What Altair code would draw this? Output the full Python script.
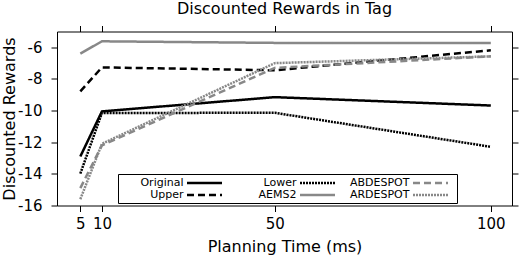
import altair as alt
import pandas as pd

# ---- data ----
times = [5, 10, 50, 100]
original = [-12.9, -10.05, -9.15, -9.68]
upper = [-8.78, -7.27, -7.45, -6.19]
lower = [-13.98, -10.15, -10.14, -12.29]
aems2 = [-6.40, -5.62, -5.72, -5.72]
abdespot = [-14.9, -12.2, -7.3, -6.57]
ardespot = [-15.6, -12.1, -7.0, -6.57]

series_names = ["Original", "Upper", "Lower", "AEMS2", "ABDESPOT", "ARDESPOT"]
series_values = [original, upper, lower, aems2, abdespot, ardespot]
series_colors = ["black", "black", "black", "#888888", "#888888", "#888888"]
series_dashes = [[1, 0], [7, 4], [2, 1], [1, 0], [7, 4], [2, 1]]

x_ticks = [5, 10, 50, 100]
y_ticks = [-16, -14, -12, -10, -8, -6]

rows = []
for name, vals in zip(series_names, series_values):
    for t, v in zip(times, vals):
        rows.append({"series": name, "time": t, "reward": v})
df = pd.DataFrame(rows)

FONT = "DejaVu Sans"

xscale = alt.Scale(domain=[-0.4, 104.9], nice=False, zero=False)
yscale = alt.Scale(domain=[-16, -5], nice=False, zero=False)

legend = alt.Legend(
    title=None,
    orient="none",
    legendX=61,
    legendY=142.5,
    columns=3,
    symbolType="M-4,0H4",
    symbolSize=76.6,
    symbolStrokeWidth=2.5,
    symbolOffset=77.5,
    labelAlign="right",
    labelOffset={"expr": "-27"},
    labelFontSize=11,
    labelFont=FONT,
    labelColor="black",
    strokeColor="black",
    fillColor="white",
    padding=3,
    columnPadding=6,
    rowPadding=1,
    cornerRadius=0,
)

base = alt.Chart(df)

lines = base.mark_line(strokeWidth=2.5).encode(
    x=alt.X("time:Q", scale=xscale,
            axis=alt.Axis(orient="bottom", values=x_ticks, title="Planning Time (ms)",
                          labelPadding=5, titlePadding=7)),
    y=alt.Y("reward:Q", scale=yscale,
            axis=alt.Axis(orient="left", values=y_ticks, title="Discounted Rewards",
                          labelExpr="'' + datum.value", labelPadding=9, titlePadding=0)),
    color=alt.Color("series:N", scale=alt.Scale(domain=series_names, range=series_colors),
                    legend=legend),
    strokeDash=alt.StrokeDash("series:N",
                              scale=alt.Scale(domain=series_names, range=series_dashes),
                              legend=legend),
)

frame = base.mark_line(opacity=0).encode(
    x=alt.X("time:Q", scale=xscale,
            axis=alt.Axis(orient="top", values=x_ticks, labels=False, title=None)),
    y=alt.Y("reward:Q", scale=yscale,
            axis=alt.Axis(orient="right", values=y_ticks, labels=False, title=None)),
    detail="series:N",
)

chart = (
    alt.layer(lines, frame)
    .resolve_axis(x="independent", y="independent")
    .properties(
        width=455,
        height=174,
        padding={"left": 57, "top": 31.5, "right": 16, "bottom": 49.5},
        autosize=alt.AutoSizeParams(type="none"),
        background="white",
        title=alt.TitleParams("Discounted Rewards in Tag", fontSize=16, font=FONT,
                              fontWeight="normal", color="black", anchor="middle",
                              offset=8),
    )
    .configure_view(stroke=None)
    .configure_axis(
        grid=False,
        domainColor="black",
        domainWidth=1,
        tickColor="black",
        tickWidth=1,
        tickSize=6,
        labelColor="black",
        titleColor="black",
        labelFont=FONT,
        titleFont=FONT,
        labelFontSize=15,
        titleFontSize=16,
        titleFontWeight="normal",
    )
)

chart.save("out.html", embed_options={"renderer": "svg", "actions": False})
